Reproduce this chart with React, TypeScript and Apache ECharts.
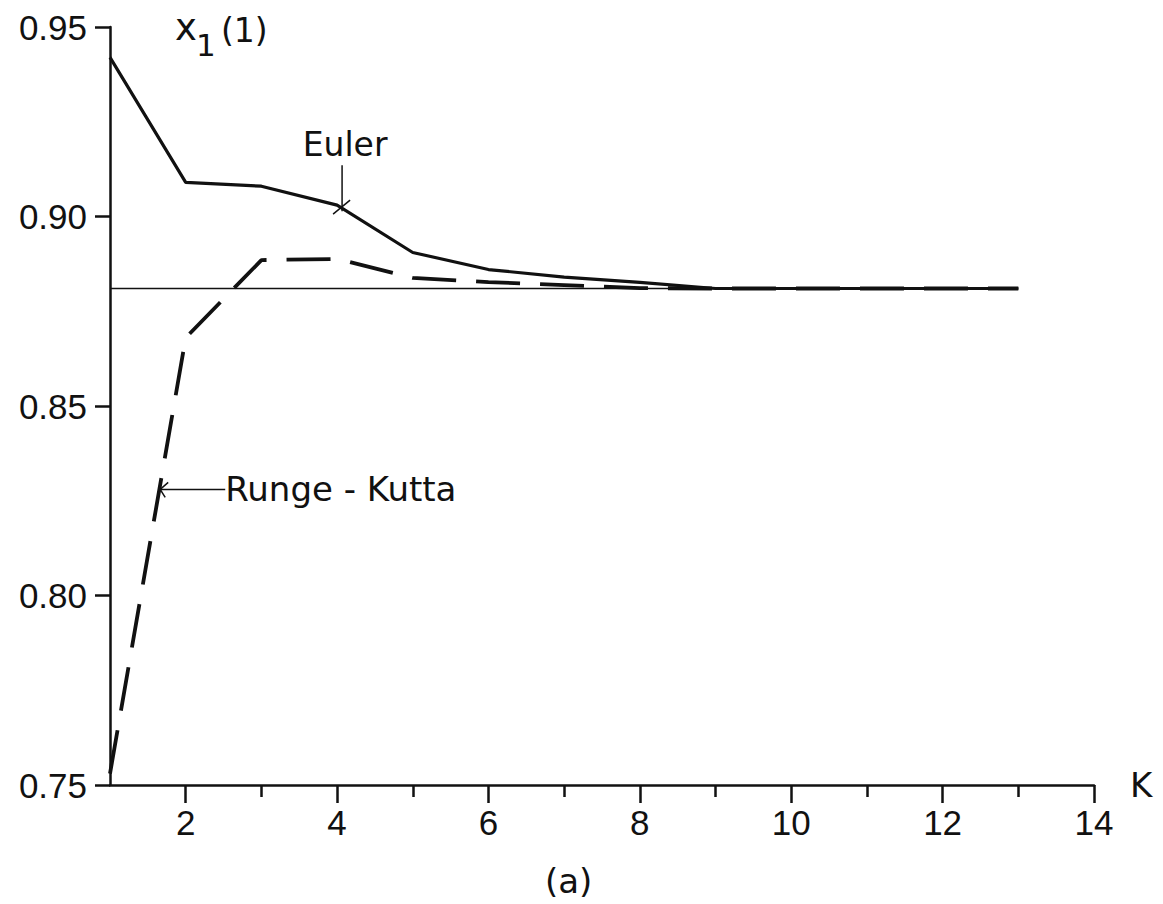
import React, { useEffect, useRef } from "react";
import * as echarts from "echarts";

// ---- data ----
const kValues = [1, 2, 3, 4, 5, 6, 7, 8, 9, 10, 11, 12, 13];
const eulerValues = [0.942, 0.909, 0.908, 0.903, 0.8905, 0.886, 0.884, 0.8826, 0.881, 0.881, 0.881, 0.881, 0.881];
const rungeKuttaValues = [0.753, 0.868, 0.8885, 0.8888, 0.8838, 0.8827, 0.8819, 0.8811, 0.881, 0.881, 0.881, 0.881, 0.881];
const exactK = [1, 13];
const exactValue = 0.881;
const xMajorTicks = [2, 4, 6, 8, 10, 12, 14];
const xMinorTicks = [3, 5, 7, 9, 11, 13];
const yMin = 0.75;
const yMax = 0.95;
const yStep = 0.05;
const xMin = 1;
const xMax = 14;
const eulerLabelK = 4;
const rkLabelPoint = [1.65, 0.828];

const INK = "#111";
const NUM_FONT = "Liberation Sans";
const TXT_FONT = "DejaVu Sans";

export default function App() {
  const ref = useRef<HTMLDivElement>(null);

  useEffect(() => {
    document.body.style.margin = "0";
    const chart = echarts.init(ref.current!, null, { renderer: "svg" });
    chart.setOption({
      animation: false,
      backgroundColor: "#fff",
      grid: { left: 110, right: 69, top: 27, bottom: 119 },
      xAxis: [
        {
          type: "value",
          min: xMin,
          max: xMax,
          interval: 1,
          position: "bottom",
          axisLine: { lineStyle: { color: INK, width: 2.5 } },
          axisTick: { customValues: xMajorTicks, length: 18, lineStyle: { color: INK, width: 2.5 } },
          axisLabel: {
            customValues: xMajorTicks,
            margin: 20,
            fontSize: 35,
            fontFamily: NUM_FONT,
            color: INK,
          },
          splitLine: { show: false },
          name: "K",
          nameLocation: "end",
          nameGap: 36,
          nameTextStyle: { fontSize: 34, fontFamily: TXT_FONT, color: INK, verticalAlign: "middle" },
        },
        {
          type: "value",
          min: xMin,
          max: xMax,
          interval: 1,
          position: "bottom",
          axisLine: { show: false },
          axisTick: { customValues: xMinorTicks, length: 12, lineStyle: { color: INK, width: 2.5 } },
          axisLabel: { show: false },
          splitLine: { show: false },
        },
      ],
      yAxis: {
        type: "value",
        min: yMin,
        max: yMax,
        interval: yStep,
        axisLine: { show: true, lineStyle: { color: INK, width: 2.5 } },
        axisTick: { show: true, length: 15, lineStyle: { color: INK, width: 2.5 } },
        axisLabel: {
          margin: 23,
          fontSize: 35,
          fontFamily: NUM_FONT,
          color: INK,
          formatter: (v: number) => v.toFixed(2),
        },
        splitLine: { show: false },
      },
      series: [
        {
          type: "line",
          xAxisIndex: 0,
          data: exactK.map((k) => [k, exactValue]),
          symbol: "none",
          lineStyle: { color: INK, width: 1.6 },
          z: 2,
        },
        {
          name: "Euler",
          type: "line",
          xAxisIndex: 0,
          data: kValues.map((k, i) => [k, eulerValues[i]]),
          symbol: "none",
          lineStyle: { color: INK, width: 3.2 },
          z: 3,
        },
        {
          name: "Runge - Kutta",
          type: "line",
          xAxisIndex: 0,
          data: kValues.map((k, i) => [k, rungeKuttaValues[i]]),
          symbol: "none",
          lineStyle: { color: INK, width: 3.8, type: [44, 20] },
          z: 4,
        },
      ],
    });

    const px = (x: number, y: number) =>
      chart.convertToPixel({ xAxisIndex: 0, yAxisIndex: 0 }, [x, y]) as number[];

    const e = px(eulerLabelK, eulerValues[eulerLabelK - 1]);
    const r = px(rkLabelPoint[0], rkLabelPoint[1]);
    const top = px(xMin, yMax);

    chart.setOption({
      graphic: [
        // Euler leader
        {
          type: "line",
          shape: { x1: e[0] + 5, y1: e[1] - 40, x2: e[0] + 5, y2: e[1] + 6 },
          style: { stroke: INK, lineWidth: 1.5 },
        },
        {
          type: "line",
          shape: { x1: e[0] - 4, y1: e[1] + 9, x2: e[0] + 13, y2: e[1] - 5 },
          style: { stroke: INK, lineWidth: 1.5 },
        },
        {
          type: "text",
          x: e[0] + 8,
          y: e[1] - 44,
          style: {
            text: "Euler",
            fontSize: 33,
            fontFamily: TXT_FONT,
            fill: INK,
            align: "center",
            verticalAlign: "bottom",
          },
        },
        // Runge-Kutta leader
        {
          type: "line",
          shape: { x1: r[0], y1: r[1], x2: r[0] + 66, y2: r[1] },
          style: { stroke: INK, lineWidth: 1.5 },
        },
        {
          type: "polyline",
          shape: { points: [[r[0] + 9, r[1] - 7], [r[0] + 1, r[1]], [r[0] + 6, r[1] + 8]] },
          style: { stroke: INK, lineWidth: 1.5, fill: "none" },
        },
        {
          type: "text",
          x: r[0] + 66,
          y: r[1],
          style: {
            text: "Runge - Kutta",
            fontSize: 34,
            fontFamily: TXT_FONT,
            fill: INK,
            align: "left",
            verticalAlign: "middle",
          },
        },
        // y-axis title x1 (1)
        {
          type: "text",
          x: top[0] + 65,
          y: top[1] + 0,
          style: { text: "x", fontSize: 37, fontFamily: TXT_FONT, fill: INK, align: "left", verticalAlign: "middle" },
        },
        {
          type: "text",
          x: top[0] + 86,
          y: top[1] + 18,
          style: { text: "1", fontSize: 31, fontFamily: TXT_FONT, fill: INK, align: "left", verticalAlign: "middle" },
        },
        {
          type: "text",
          x: top[0] + 111,
          y: top[1] + 3,
          style: { text: "(1)", fontSize: 33, fontFamily: TXT_FONT, fill: INK, align: "left", verticalAlign: "middle" },
        },
        // caption
        {
          type: "text",
          left: 545,
          top: 864,
          style: { text: "(a)", fontSize: 34, fontFamily: TXT_FONT, fill: INK },
        },
      ],
    });

    return () => chart.dispose();
  }, []);

  return <div ref={ref} style={{ width: 1163, height: 904 }} />;
}
